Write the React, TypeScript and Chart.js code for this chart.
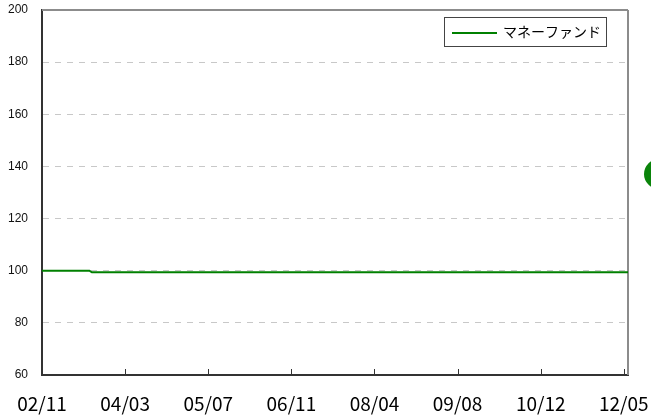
import React, { useEffect, useRef } from "react";
import { Chart, registerables } from "chart.js";

Chart.register(...registerables);

const tickLabels = ["02/11", "04/03", "05/07", "06/11", "08/04", "09/08", "10/12", "12/05"];
const seriesName = "マネーファンド";
const pointPositions = [0, 0.57, 0.6, 7.05];
const seriesValues = [100, 100, 99.4, 99.4];
const yMin = 60;
const yMax = 200;
const yStep = 20;

const framePlugin = {
  id: "frame",
  beforeDatasetsDraw(chart: any) {
    const { ctx, chartArea } = chart;
    const { left, right, top, bottom } = chartArea;
    ctx.save();
    ctx.strokeStyle = "#8c8c8c";
    ctx.lineWidth = 2;
    ctx.beginPath();
    ctx.moveTo(left, top);
    ctx.lineTo(right, top);
    ctx.moveTo(right, top);
    ctx.lineTo(right, bottom);
    ctx.stroke();
    const xs = chart.scales.x;
    ctx.strokeStyle = "#333";
    ctx.lineWidth = 1;
    ctx.beginPath();
    xs.ticks.forEach((t: any) => {
      const px = Math.round(xs.getPixelForValue(t.value)) + 0.5;
      ctx.moveTo(px, bottom);
      ctx.lineTo(px, bottom - 6);
    });
    ctx.stroke();
    ctx.restore();
  },
  afterDraw(chart: any) {
    const { ctx } = chart;
    ctx.save();
    const bx = 444.5, by = 17.5, bw = 162, bh = 29;
    ctx.fillStyle = "#fff";
    ctx.fillRect(bx, by, bw, bh);
    ctx.strokeStyle = "#444";
    ctx.lineWidth = 1;
    ctx.strokeRect(bx, by, bw, bh);
    const ds = chart.data.datasets[0];
    ctx.strokeStyle = ds.borderColor;
    ctx.lineWidth = 2;
    ctx.beginPath();
    ctx.moveTo(452, 33);
    ctx.lineTo(497, 33);
    ctx.stroke();
    ctx.fillStyle = "#000";
    ctx.font = "14px 'Noto Sans CJK JP'";
    ctx.textBaseline = "middle";
    ctx.textAlign = "left";
    ctx.fillText(ds.label, 503, 32);
    ctx.fillStyle = "#0a840a";
    ctx.beginPath();
    ctx.arc(659, 174, 15, 0, Math.PI * 2);
    ctx.fill();
    ctx.restore();
  },
};

function zeroPad(scale: any) {
  scale.paddingLeft = 0;
  scale.paddingRight = 0;
  scale.paddingTop = 0;
  scale.paddingBottom = 0;
}

export default function App() {
  const ref = useRef<HTMLCanvasElement>(null);
  useEffect(() => {
    if (!ref.current) return;
    const chart = new Chart(ref.current, {
      type: "line",
      data: {
        datasets: [
          {
            label: seriesName,
            data: pointPositions.map((x, i) => ({ x, y: seriesValues[i] })),
            borderColor: "#008000",
            borderWidth: 2,
            pointRadius: 0,
            tension: 0,
            fill: false,
          },
        ],
      },
      options: {
        responsive: false,
        animation: false,
        layout: { autoPadding: false, padding: { top: 10, right: 23, left: 0, bottom: 0 } },
        plugins: { legend: { display: false }, tooltip: { enabled: false } },
        scales: {
          x: {
            type: "linear",
            min: 0,
            max: 7.05,
            afterBuildTicks(scale: any) {
              scale.ticks = tickLabels.map((_, i) => ({ value: i }));
            },
            afterFit(scale: any) {
              scale.height = 42;
              zeroPad(scale);
            },
            grid: { display: false, drawTicks: false },
            border: { display: true, color: "#333", width: 2 },
            ticks: {
              autoSkip: false,
              maxRotation: 0,
              padding: 17,
              color: "#000",
              font: { family: "'Noto Sans CJK JP'", size: 19 },
              callback: (v: any) => tickLabels[Math.round(v)] ?? "",
            },
          },
          y: {
            min: yMin,
            max: yMax,
            afterFit(scale: any) {
              scale.width = 42;
              zeroPad(scale);
            },
            grid: {
              drawTicks: false,
              color: "#c8c8c8",
              lineWidth: 1,
            },
            border: { display: true, color: "#333", width: 2, dash: [6, 6] },
            ticks: {
              stepSize: yStep,
              padding: 14,
              color: "#111",
              font: { family: "'Liberation Sans'", size: 12 },
            },
          },
        },
      },
      plugins: [framePlugin],
    });
    return () => chart.destroy();
  }, []);
  return (
    <div style={{ position: "fixed", left: 0, top: 0, width: 651, height: 417, background: "#fff" }}>
      <canvas ref={ref} width={651} height={417} style={{ display: "block" }} />
    </div>
  );
}
